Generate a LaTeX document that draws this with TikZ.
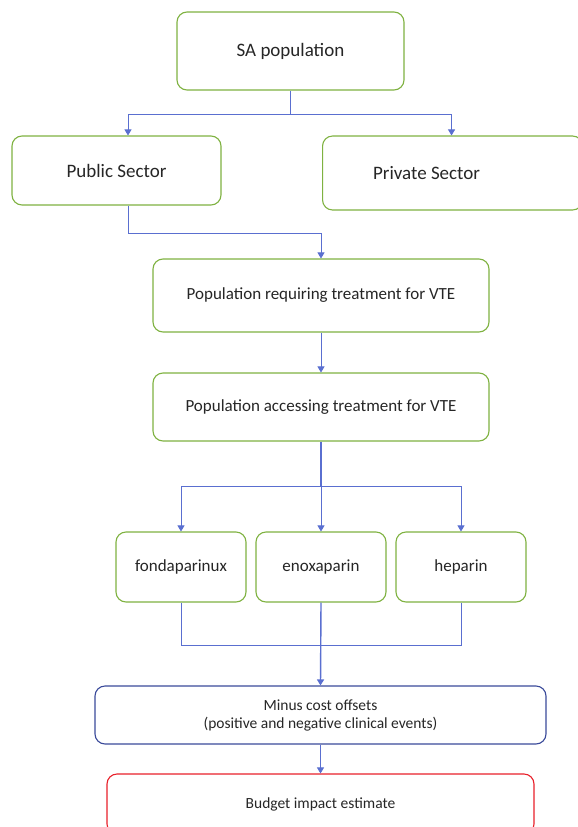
\documentclass[tikz,border=0pt]{standalone}
\usepackage{fontspec}
\setmainfont{Carlito}
\usetikzlibrary{arrows.meta}
\definecolor{boxgreen}{HTML}{7FB241}
\definecolor{lineblue}{HTML}{5A6FD0}
\definecolor{darkblue}{HTML}{3A4A9A}
\definecolor{boxred}{HTML}{E8202A}
\definecolor{txt}{HTML}{262626}
\begin{document}
\begin{tikzpicture}[x=1pt,y=-1pt,
  box/.style={draw=boxgreen, line width=1.1pt, rounded corners=10pt, fill=white, text=txt, align=center, inner sep=0pt},
  bigtxt/.style={font=\fontsize{19}{22}\selectfont},
  midtxt/.style={font=\fontsize{17}{20}\selectfont},
  smalltxt/.style={font=\fontsize{15.5}{18}\selectfont},
  conn/.style={draw=lineblue, line width=0.7pt},
  thick conn/.style={draw=lineblue, line width=1.4pt},
  tip/.style={-{Triangle[length=6pt,width=7pt]}}
]
\useasboundingbox (0,0) rectangle (578,827);
\node[box,bigtxt,minimum width=227pt,minimum height=78pt] (sa) at (290.5,51) {SA population};
\node[box,bigtxt,minimum width=209pt,minimum height=69pt] (pub) at (116.5,170.5) {Public Sector};
\node[box,bigtxt,minimum width=260pt,minimum height=74pt,anchor=west] (priv) at (322,173) {\hspace*{-52pt}Private Sector};
\node[box,midtxt,minimum width=336pt,minimum height=73pt] (req) at (321,295.5) {Population requiring treatment for VTE};
\node[box,midtxt,minimum width=336pt,minimum height=68pt] (acc) at (321,407) {Population accessing treatment for VTE};
\node[box,midtxt,minimum width=130pt,minimum height=70pt] (fon) at (181,567) {fondaparinux};
\node[box,midtxt,minimum width=130pt,minimum height=70pt] (eno) at (321,567) {enoxaparin};
\node[box,midtxt,minimum width=130pt,minimum height=70pt] (hep) at (461,567) {heparin};
\node[box,draw=darkblue,smalltxt,minimum width=451pt,minimum height=58pt] (minus) at (320.5,715) {Minus cost offsets\\(positive and negative clinical events)};
\node[box,draw=boxred,smalltxt,minimum width=427pt,minimum height=60pt] (bud) at (320.5,804) {Budget impact estimate};

\coordinate (j1) at (290.5,114);
\draw[conn] (sa.south) -- (j1);
\draw[conn,tip] (j1) -| ([xshift=11.5pt]pub.north);
\draw[conn,tip] (j1) -| ([xshift=-1pt]priv.north);
\coordinate (j2) at (128,233);
\draw[conn] ([xshift=11.5pt]pub.south) -- (j2);
\draw[conn,tip] (j2) -| (req.north);
\draw[conn,tip] (req.south) -- (acc.north);
\coordinate (j3) at (321,486);
\draw[thick conn] (acc.south) -- (j3);
\draw[conn,tip] (j3) -| (fon.north);
\draw[conn,tip] (j3) -| (hep.north);
\draw[conn,tip] (j3) -- (eno.north);
\coordinate (j4) at (321,645);
\draw[conn] (fon.south) |- (j4);
\draw[conn] (hep.south) |- (j4);
\draw[thick conn,tip] (eno.south) -- (minus.north);
\draw[conn,tip] (minus.south) -- (bud.north);
\end{tikzpicture}
\end{document}
